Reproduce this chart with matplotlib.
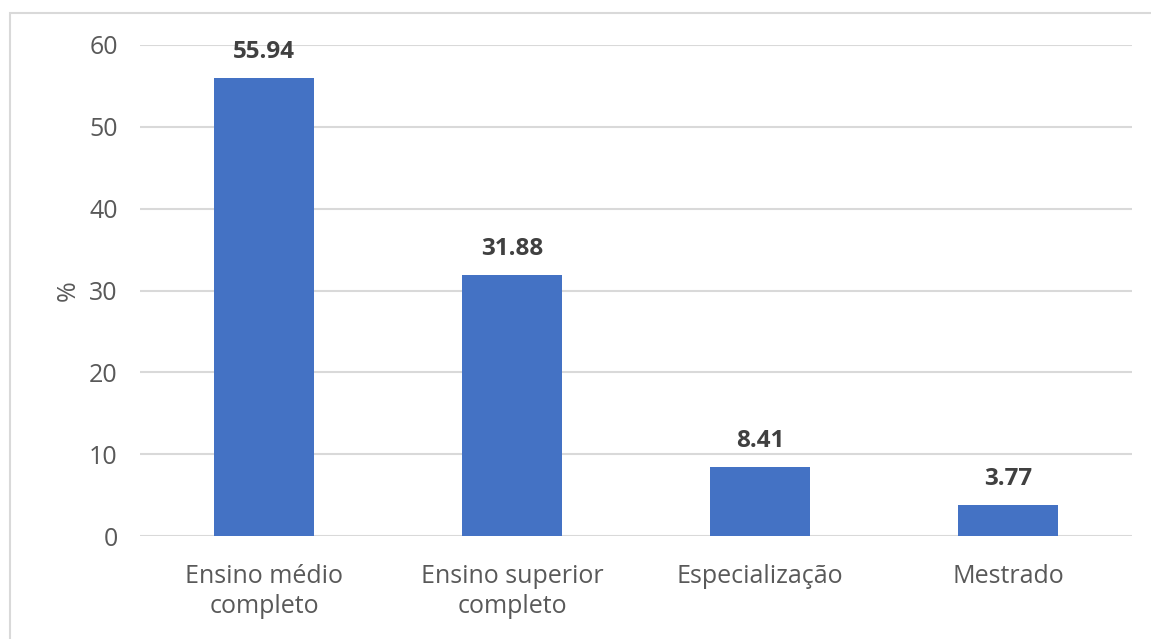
import matplotlib.pyplot as plt
from matplotlib.patches import Rectangle

# escolaridade dos respondentes (%)
categorias = ["Ensino médio\ncompleto", "Ensino superior\ncompleto", "Especialização", "Mestrado"]
percentuais = [55.94, 31.88, 8.41, 3.77]
yticks = [0, 10, 20, 30, 40, 50, 60]

plt.rcParams["font.family"] = ["Open Sans", "DejaVu Sans"]

W, H = 1151, 639
fig = plt.figure(figsize=(W / 100, H / 100), dpi=100)
ax = fig.add_axes([140 / W, 1 - 536 / H, (1132 - 140) / W, (536 - 45) / H])

x = range(len(categorias))
bars = ax.bar(x, percentuais, width=0.403, color="#4472C4", zorder=3)

for b, v in zip(bars, percentuais):
    ax.annotate(f"{v:.2f}", (b.get_x() + b.get_width() / 2, v),
                xytext=(0, 10), textcoords="offset points",
                ha="center", va="bottom", fontsize=17.5, fontweight="bold",
                color="#404040")

ax.set_xlim(-0.5, len(categorias) - 0.5)
ax.set_ylim(0, 60)
ax.set_yticks(yticks)
ax.set_xticks(list(x))
ax.set_xticklabels(categorias, fontsize=18, color="#595959", linespacing=1.3)
ax.tick_params(axis="y", labelsize=18, labelcolor="#595959", length=0, pad=16)
ax.tick_params(axis="x", length=0, pad=20)
ax.grid(axis="y", color="#d9d9d9", linewidth=1.5, zorder=0)
for s in ax.spines.values():
    s.set_visible(False)

ax.set_ylabel("%", fontsize=18, color="#595959", labelpad=6)

# moldura do gráfico
fig.patches.append(Rectangle((10 / W, -0.1), 1.2, 1 - 13 / H + 0.1,
                             transform=fig.transFigure, fill=False,
                             edgecolor="#d9d9d9", linewidth=1.5))

fig.savefig("out.png", dpi=100, facecolor="white")
